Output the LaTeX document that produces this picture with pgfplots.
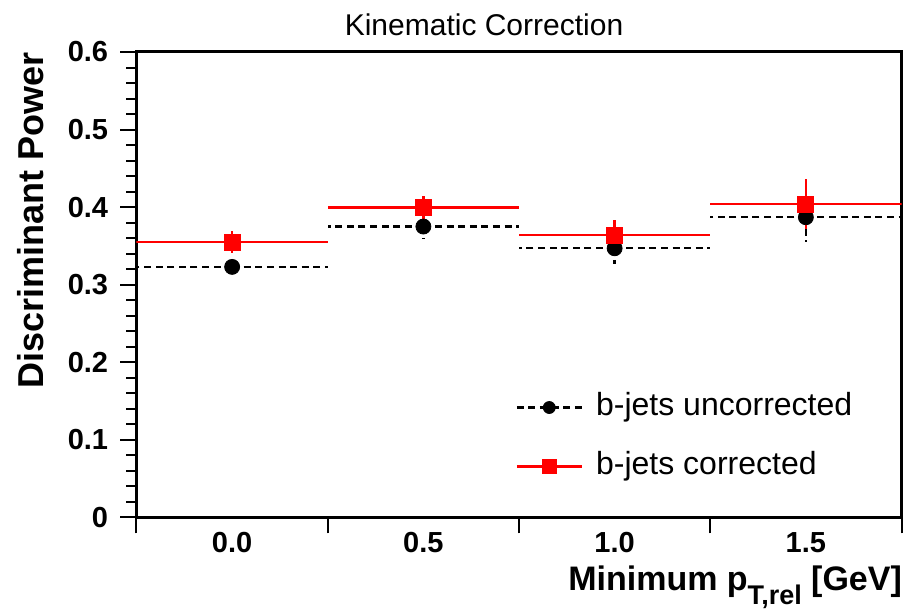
\documentclass[border=0pt]{standalone}
\usepackage{fontspec}
\setmainfont{Liberation Sans}
\usepackage{graphicx}
\usepackage{pgfplots}
\pgfplotsset{compat=1.18}
\usepackage{pgfplotstable}

\pgfplotstableread{
x    y      ex    ey
0.0  0.323  0.25  0.014
0.5  0.375  0.25  0.015
1.0  0.347  0.25  0.020
1.5  0.387  0.25  0.032
}\uncorr
\pgfplotstableread{
x    y      ex    ey
0.0  0.355  0.25  0.014
0.5  0.400  0.25  0.015
1.0  0.364  0.25  0.020
1.5  0.404  0.25  0.032
}\corr

\pgfplotsset{
  leguncorr/.style={legend image code/.code={
    \draw[black, line width=1.2pt, dash pattern=on 3.5pt off 2.3pt] (0pt,0pt) -- (32.5pt,0pt);
    \draw[##1, mark size=3pt] plot coordinates {(16.25pt,0pt)};}},
  legcorr/.style={legend image code/.code={
    \draw[red, line width=1.35pt] (0pt,0pt) -- (32.5pt,0pt);
    \draw[##1, mark size=3.5pt] plot coordinates {(16.25pt,0pt)};}},
}

\begin{document}
\begin{tikzpicture}
\begin{axis}[name=ax,
  scale only axis, width=382.5pt, height=232.75pt,
  xmin=-0.25, xmax=1.75, ymin=0, ymax=0.6,
  axis line style={line width=1.5pt},
  every tick/.style={black, line width=1pt},
  tick align=outside,
  major tick length=8pt, minor tick length=5pt,
  xtick pos=bottom, ytick pos=left,
  xtick={-0.25,0.25,0.75,1.25,1.75},
  xticklabels={},
  extra x ticks={0,0.5,1,1.5},
  extra x tick labels={0.0,0.5,1.0,1.5},
  extra x tick style={major tick length=0pt,
    xticklabel style={font=\fontsize{14.5}{16}\selectfont\bfseries, anchor=base, inner sep=0pt, yshift=-17.5pt}},
  ytick={0,0.1,0.2,0.3,0.4,0.5,0.6},
  yticklabels={0,0.1,0.2,0.3,0.4,0.5,0.6},
  minor y tick num=4,
  yticklabel style={font=\fontsize{14.5}{16}\selectfont\bfseries, anchor=east, inner sep=0pt, xshift=-6pt},
  every axis title shift=0pt,
  title={Kinematic Correction},
  title style={font=\fontsize{15}{18}\selectfont, at={(axis description cs:0.4543,1.0344)}, anchor=base, inner sep=0pt},
  ylabel={Discriminant Power},
  ylabel style={font=\fontsize{18}{20}\selectfont\bfseries, at={(axis description cs:-0.1222,1)}, anchor=base east, inner sep=0pt},
  xlabel={Minimum p\raisebox{-7pt}{\fontsize{13.5}{15}\selectfont T,rel} [GeV]},
  xlabel style={font=\fontsize{17}{20}\selectfont\bfseries, at={(axis description cs:1.001,-0.1572)}, anchor=base east, inner sep=0pt},
  legend style={draw=none, fill=none, at={(axis description cs:0.4948,0.1729)}, anchor=west,
    font=\fontsize{16}{18}\selectfont, row sep=14.5pt, inner sep=0pt,
    nodes={inner sep=0pt, text height=11.5pt, text depth=3.5pt}},
  legend cell align=left,
]
\addplot[only marks, black, mark=*, mark size=3.75pt, leguncorr,
  error bars/.cd, x dir=both, x explicit, y dir=both, y explicit,
  error mark=none,
  error bar style={black, line width=1.2pt, dash pattern=on 3.5pt off 2.3pt}]
  table[x=x, y=y, x error=ex, y error=ey] {\uncorr};
\addlegendentry{\hspace{6.5pt}b-jets uncorrected}
\addplot[only marks, red, mark=square*, mark size=4pt, legcorr,
  error bars/.cd, x dir=both, x explicit, y dir=both, y explicit,
  error mark=none,
  error bar style={red, line width=1.35pt, solid}]
  table[x=x, y=y, x error=ex, y error=ey] {\corr};
\addlegendentry{\hspace{6.5pt}b-jets corrected}
\end{axis}
\pgfresetboundingbox
\path[use as bounding box] ([shift={(-68.25pt,-47.25pt)}]ax.south west) rectangle ([shift={(2.75pt,26pt)}]ax.north east);
\end{tikzpicture}
\end{document}
